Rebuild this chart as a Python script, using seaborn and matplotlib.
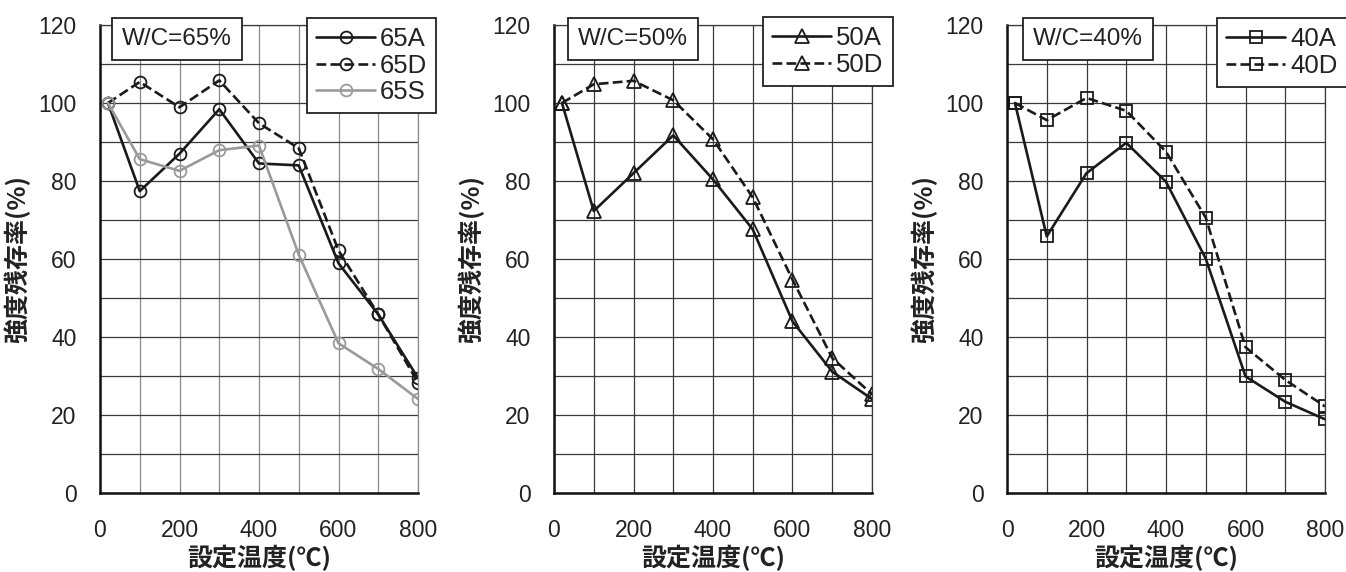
import matplotlib
matplotlib.use("Agg")
import matplotlib.pyplot as plt
from matplotlib.ticker import MultipleLocator
import seaborn as sns
import pandas as pd

sns.set_theme(style="white")
plt.rcParams['font.family'] = ['Liberation Sans', 'DejaVu Sans']

temps = [20, 100, 200, 300, 400, 500, 600, 700, 800]

s65A = [100, 77.4, 87.0, 98.4, 84.5, 84.0, 58.9, 45.8, 29.5]
s65D = [100, 105.4, 98.9, 105.8, 94.8, 88.4, 62.2, 45.8, 28.3]
s65S = [100, 85.6, 82.6, 87.9, 89.1, 61.1, 38.4, 31.8, 24.1]

s50A = [100, 72.3, 82.0, 91.7, 80.4, 67.6, 44.0, 31.1, 24.1]
s50D = [100, 104.8, 105.7, 100.7, 90.7, 75.8, 54.7, 34.6, 25.3]

s40A = [100, 65.8, 82.0, 89.8, 79.8, 60.1, 29.9, 23.4, 18.9]
s40D = [100, 95.6, 101.3, 98.0, 87.5, 70.6, 37.4, 29.0, 22.2]

panel_titles = ["W/C=65%", "W/C=50%", "W/C=40%"]
xlabel = "設定温度(℃)"
ylabel = "強度残存率(%)"

panels = [
    [("65A", s65A, "#1a1a1a", "-", "o"),
     ("65D", s65D, "#1a1a1a", "--", "o"),
     ("65S", s65S, "#9a9a9a", "-", "o")],
    [("50A", s50A, "#1a1a1a", "-", "^"),
     ("50D", s50D, "#1a1a1a", "--", "^")],
    [("40A", s40A, "#1a1a1a", "-", "s"),
     ("40D", s40D, "#1a1a1a", "--", "s")],
]

W, H = 1346, 572
fig = plt.figure(figsize=(W / 100, H / 100), dpi=100)

lefts = [100, 554, 1007]
ax_w = 318
ax_top, ax_bot = 25, 493
legend_boxes = [(307, 18), (763, 17), (1217, 18)]
title_boxes = [(112, 18), (568, 18), (1023, 18)]

cjk = ['Noto Sans CJK JP', 'DejaVu Sans']
grid_col = "#3a3a3a"
msizes = {"o": 8.5, "^": 9.5, "s": 8.5}
title_fs = 17.5
title_pad = 0.42
pad_px = title_pad * title_fs * 100 / 72

for i, series in enumerate(panels):
    ax = fig.add_axes([lefts[i] / W, 1 - ax_bot / H, ax_w / W, (ax_bot - ax_top) / H])
    for name, vals, col, ls, mk in series:
        df = pd.DataFrame({"x": temps, "y": vals})
        sns.lineplot(data=df, x="x", y="y", ax=ax, color=col, linestyle=ls,
                     linewidth=1.9, marker=mk, markersize=msizes[mk],
                     markerfacecolor="none", markeredgecolor=col,
                     markeredgewidth=1.3, label=name, sort=False)
    ax.set_xlim(0, 800)
    ax.set_ylim(0, 120)
    ax.xaxis.set_major_locator(MultipleLocator(200))
    ax.xaxis.set_minor_locator(MultipleLocator(100))
    ax.yaxis.set_major_locator(MultipleLocator(20))
    ax.yaxis.set_minor_locator(MultipleLocator(10))
    vcol = "#8a8a8a" if i == 0 else grid_col
    ax.grid(True, which="both", axis="x", color=vcol, linewidth=0.9)
    ax.grid(True, which="both", axis="y", color=grid_col, linewidth=0.9)
    ax.set_axisbelow(True)
    for sp in ["left", "bottom"]:
        ax.spines[sp].set_color("#111111")
        ax.spines[sp].set_linewidth(1.8)
    ax.spines["top"].set_color(grid_col)
    ax.spines["top"].set_linewidth(0.9)
    ax.spines["right"].set_color(vcol)
    ax.spines["right"].set_linewidth(0.9)
    ax.tick_params(axis="both", which="both", direction="in", length=3,
                   width=1.5, color="#111111", labelsize=16.5,
                   labelcolor="#222222")
    ax.tick_params(axis="y", which="both", pad=14 + 3)
    ax.tick_params(axis="x", which="both", pad=16 + 3)
    ax.set_xlabel(xlabel, fontsize=18, fontweight="bold", family=cjk, labelpad=2,
                  color="#222222")
    ax.set_ylabel(ylabel, fontsize=18, fontweight="bold", family=cjk, labelpad=6,
                  color="#222222")

    lx, ly = legend_boxes[i]
    leg = ax.legend(loc="upper left", bbox_to_anchor=(lx / W, 1 - ly / H),
                    bbox_transform=fig.transFigure, fontsize=18.5, frameon=True,
                    fancybox=False, edgecolor="#222222", framealpha=1,
                    handlelength=2.3, handletextpad=0.2, borderpad=0.35,
                    labelspacing=0.1, borderaxespad=0)
    leg.get_frame().set_linewidth(1.3)
    for t in leg.get_texts():
        t.set_color("#222222")

    tx, ty = title_boxes[i]
    fig.text((tx + pad_px) / W, 1 - (ty + pad_px) / H, panel_titles[i],
             ha="left", va="top", fontsize=title_fs, color="#222222",
             bbox=dict(boxstyle=f"square,pad={title_pad}", fc="white",
                       ec="#222222", lw=1.3))

fig.savefig("out.png", dpi=100)
